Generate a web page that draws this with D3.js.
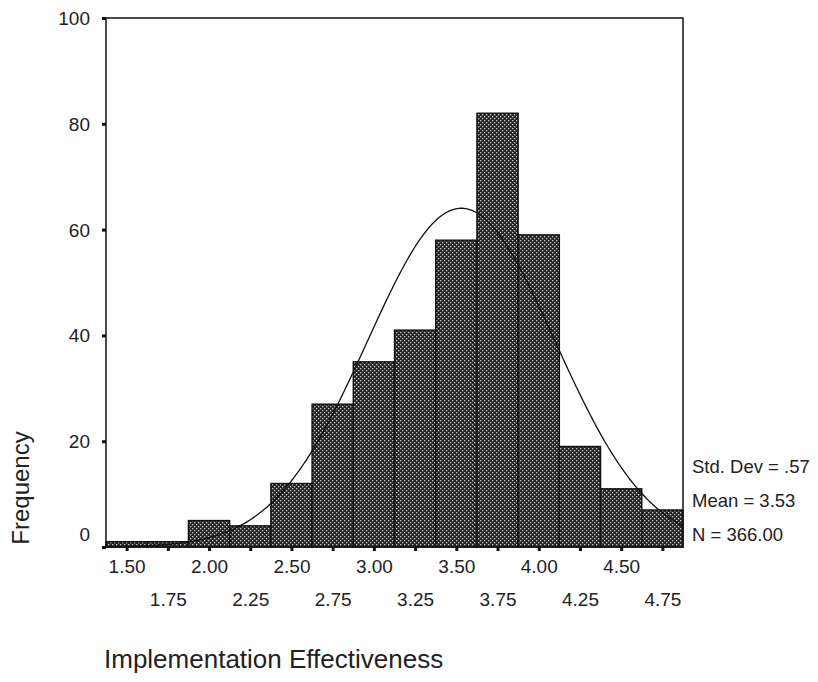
<!DOCTYPE html>
<html>
<head>
<meta charset="utf-8">
<script src="https://cdn.jsdelivr.net/npm/d3@7"></script>
<style>
  body { margin: 0; background: #fff; }
  text { font-family: "Liberation Sans", Arial, sans-serif; fill: #222; }
</style>
</head>
<body>
<svg width="818" height="682"></svg>
<script>
// bin centers (width .25) and counts
let bins = [1.50, 1.75, 2.00, 2.25, 2.50, 2.75, 3.00, 3.25, 3.50, 3.75, 4.00, 4.25, 4.50, 4.75]
let counts = [1, 1, 5, 4, 12, 27, 35, 41, 58, 82, 59, 19, 11, 7]
let xTickLabels = ["1.50", "1.75", "2.00", "2.25", "2.50", "2.75", "3.00", "3.25", "3.50", "3.75", "4.00", "4.25", "4.50", "4.75"]
let yTicks = [0, 20, 40, 60, 80, 100]

// stats printed on the chart (normal curve is drawn from them)
let stdDev = 0.57
let mean = 3.53
let n = 366
let statLabels = ["Std. Dev = .57", "Mean = 3.53", "N = 366.00"]

let binWidth = 0.25

var svg = d3.select("svg")

// dotted fill like the old SPSS bars
var defs = svg.append("defs")
var pat = defs.append("pattern")
  .attr("id", "dots")
  .attr("patternUnits", "userSpaceOnUse")
  .attr("width", 4).attr("height", 4)
pat.append("rect").attr("width", 4).attr("height", 4).attr("fill", "#262626")
pat.append("rect").attr("x", 0).attr("y", 0).attr("width", 1.3).attr("height", 1.3).attr("fill", "#c4c4c4")
pat.append("rect").attr("x", 2).attr("y", 2).attr("width", 1.3).attr("height", 1.3).attr("fill", "#c4c4c4")

var plotLeft = 106, plotRight = 683, plotTop = 18, plotBottom = 547

var x = d3.scaleLinear()
  .domain([bins[0] - binWidth / 2, bins[bins.length - 1] + binWidth / 2])
  .range([plotLeft, plotRight])

var y = d3.scaleLinear()
  .domain([0, 100])
  .range([plotBottom, plotTop])

// bars
svg.selectAll("rect.bar")
  .data(counts)
  .enter().append("rect")
  .attr("class", "bar")
  .attr("x", (d, i) => x(bins[i] - binWidth / 2))
  .attr("width", (d, i) => x(bins[i] + binWidth / 2) - x(bins[i] - binWidth / 2))
  .attr("y", d => y(d))
  .attr("height", d => y(0) - y(d))
  .attr("fill", "url(#dots)")
  .attr("stroke", "#111")
  .attr("stroke-width", 1.4)

// normal curve
var curveX = d3.range(x.domain()[0], x.domain()[1] + 0.001, 0.01)
var normal = v => n * binWidth / (stdDev * Math.sqrt(2 * Math.PI)) * Math.exp(-0.5 * Math.pow((v - mean) / stdDev, 2))
var line = d3.line()
  .x(d => x(d))
  .y(d => y(normal(d)))
svg.append("path")
  .datum(curveX)
  .attr("d", line)
  .attr("fill", "none")
  .attr("stroke", "#111")
  .attr("stroke-width", 1.3)

// frame
svg.append("rect")
  .attr("x", plotLeft).attr("y", plotTop)
  .attr("width", plotRight - plotLeft).attr("height", plotBottom - plotTop)
  .attr("fill", "none")
  .attr("stroke", "#111")
  .attr("stroke-width", 1.5)

// y axis
var yAxis = d3.axisLeft(y)
  .tickValues(yTicks)
  .tickSize(4)
  .tickPadding(12)
var gy = svg.append("g")
  .attr("transform", "translate(" + plotLeft + ",0)")
  .call(yAxis)
gy.select(".domain").remove()
gy.selectAll(".tick line").attr("stroke", "#111").attr("stroke-width", 3)
gy.selectAll(".tick text")
  .style("font-size", "19px")
  .style("font-family", "Liberation Sans, Arial, sans-serif")
  .attr("fill", "#222")
  .attr("dy", d => d === 0 ? "-0.35em" : "0.34em")

// x axis: ticks at every bin, labels on two staggered rows
var xAxis = d3.axisBottom(x)
  .tickValues(bins)
  .tickSize(4)
  .tickFormat((d, i) => xTickLabels[i])
var gx = svg.append("g")
  .attr("transform", "translate(0," + plotBottom + ")")
  .call(xAxis)
gx.select(".domain").remove()
gx.selectAll(".tick line").attr("stroke", "#111").attr("stroke-width", 3)
gx.selectAll(".tick text")
  .style("font-size", "19px")
  .style("font-family", "Liberation Sans, Arial, sans-serif")
  .attr("fill", "#222")
  .attr("y", (d, i) => i % 2 === 0 ? 13 : 46)
  .attr("dy", "0.71em")

// stats box text
svg.selectAll("text.stat")
  .data(statLabels)
  .enter().append("text")
  .attr("class", "stat")
  .attr("x", 692)
  .attr("y", (d, i) => 473 + i * 34)
  .style("font-size", "18.5px")
  .text(d => d)

// axis titles
svg.append("text")
  .attr("transform", "translate(29,488) rotate(-90)")
  .attr("text-anchor", "middle")
  .style("font-size", "24px")
  .text("Frequency")

svg.append("text")
  .attr("x", 104)
  .attr("y", 668)
  .style("font-size", "26px")
  .text("Implementation Effectiveness")
</script>
</body>
</html>
